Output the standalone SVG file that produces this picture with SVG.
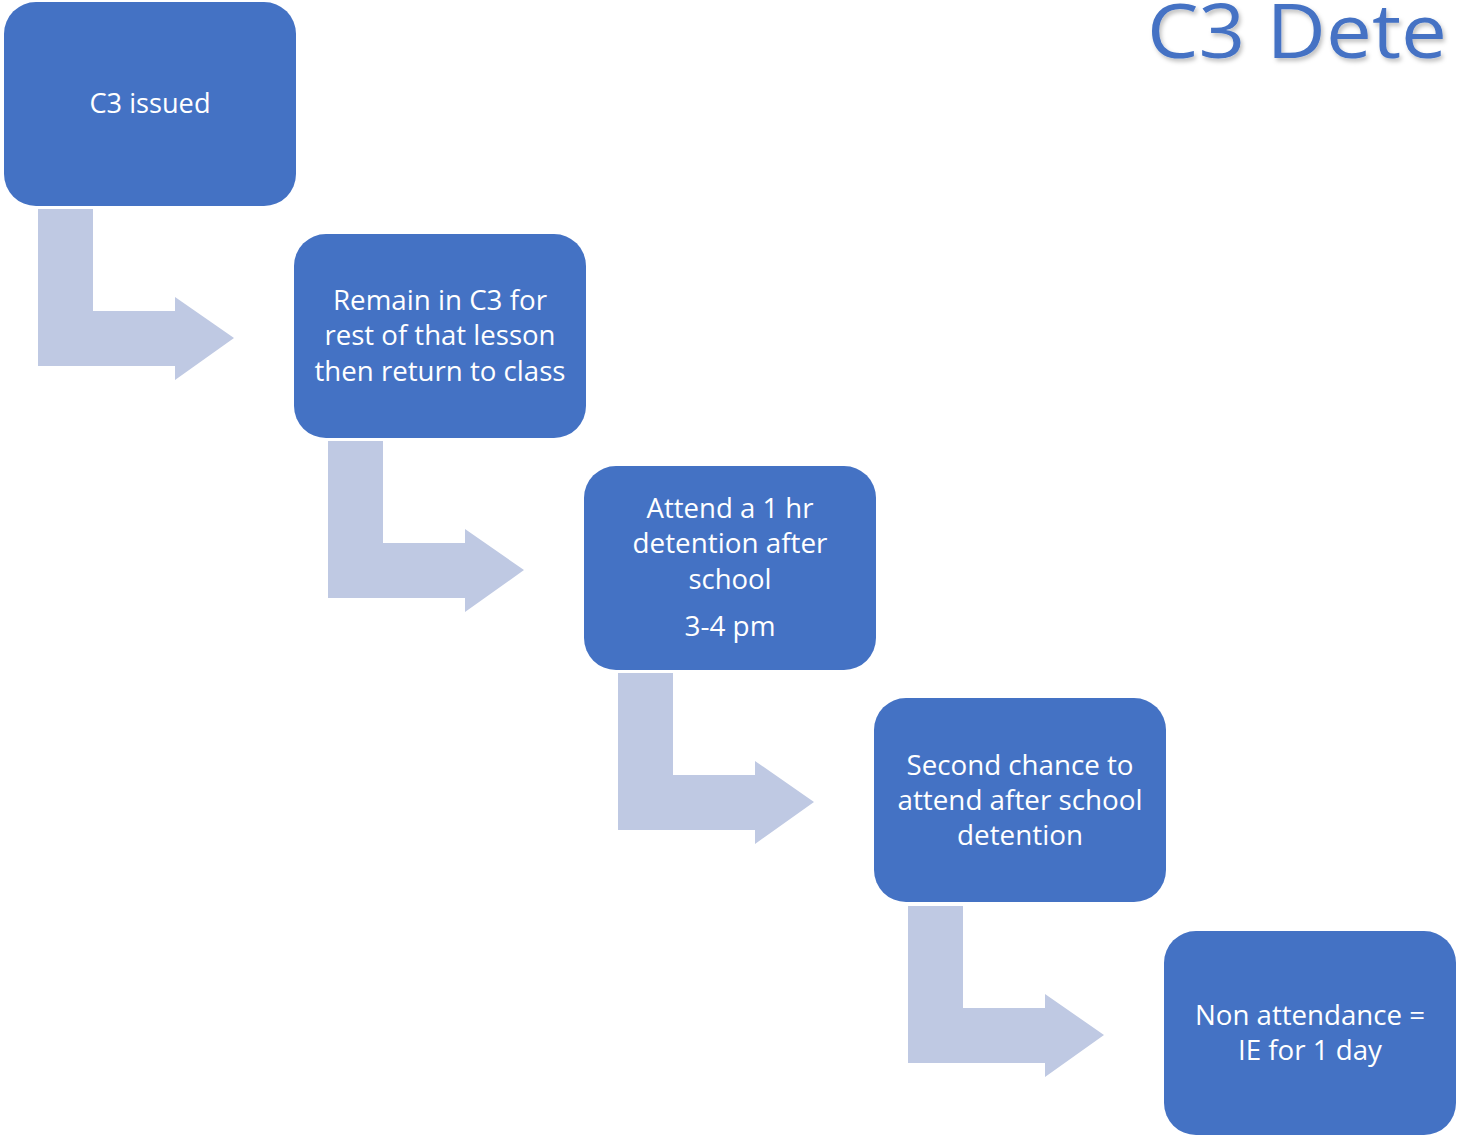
<svg xmlns="http://www.w3.org/2000/svg" width="1457" height="1136" viewBox="0 0 1457 1136">
<defs>
<style>
.box{fill:#4472C4;}
.arr{fill:#BFC9E3;}
.t{font-family:"Open Sans","Noto Sans","Liberation Sans",sans-serif;font-size:27px;fill:#FFFFFF;text-anchor:middle;}
.title{font-family:"Open Sans","Noto Sans","Liberation Sans",sans-serif;font-size:75px;fill:#4472C4;}
</style>
<filter id="sh" x="-5%" y="-20%" width="110%" height="140%">
<feDropShadow dx="2" dy="3" stdDeviation="2" flood-color="#000" flood-opacity="0.25"/>
</filter>
<path id="bent" d="M0,0 H55 V102 H137 V88 L196,129 L137,171 V157 H0 Z"/>
</defs>
<rect width="1457" height="1136" fill="#FFFFFF"/>
<g id="title">
<text class="title" x="1147" y="58" textLength="300" lengthAdjust="spacingAndGlyphs" filter="url(#sh)">C3 Dete</text>
</g>
<g id="connectors">
<use href="#bent" class="arr" x="38" y="209"/>
<use href="#bent" class="arr" x="328" y="441"/>
<use href="#bent" class="arr" x="618" y="673"/>
<use href="#bent" class="arr" x="908" y="906"/>
</g>
<g id="node1">
<rect class="box" x="4" y="2" width="292" height="204" rx="32"/>
<text class="t" x="150" y="113" textLength="121" lengthAdjust="spacingAndGlyphs">C3 issued</text>
</g>
<g id="node2">
<rect class="box" x="294" y="234" width="292" height="204" rx="32"/>
<text class="t" x="440" y="310" textLength="214" lengthAdjust="spacingAndGlyphs">Remain in C3 for</text>
<text class="t" x="440" y="345" textLength="231" lengthAdjust="spacingAndGlyphs">rest of that lesson</text>
<text class="t" x="440" y="381" textLength="251" lengthAdjust="spacingAndGlyphs">then return to class</text>
</g>
<g id="node3">
<rect class="box" x="584" y="466" width="292" height="204" rx="32"/>
<text class="t" x="730" y="518" textLength="167" lengthAdjust="spacingAndGlyphs">Attend a 1 hr</text>
<text class="t" x="730" y="553" textLength="195" lengthAdjust="spacingAndGlyphs">detention after</text>
<text class="t" x="730" y="589" textLength="83" lengthAdjust="spacingAndGlyphs">school</text>
<text class="t" x="730" y="636" textLength="91" lengthAdjust="spacingAndGlyphs">3-4 pm</text>
</g>
<g id="node4">
<rect class="box" x="874" y="698" width="292" height="204" rx="32"/>
<text class="t" x="1020" y="775" textLength="227" lengthAdjust="spacingAndGlyphs">Second chance to</text>
<text class="t" x="1020" y="810" textLength="245" lengthAdjust="spacingAndGlyphs">attend after school</text>
<text class="t" x="1020" y="845" textLength="126" lengthAdjust="spacingAndGlyphs">detention</text>
</g>
<g id="node5">
<rect class="box" x="1164" y="931" width="292" height="204" rx="32"/>
<text class="t" x="1310" y="1025" textLength="230" lengthAdjust="spacingAndGlyphs">Non attendance =</text>
<text class="t" x="1310" y="1060" textLength="144" lengthAdjust="spacingAndGlyphs">IE for 1 day</text>
</g>
</svg>
